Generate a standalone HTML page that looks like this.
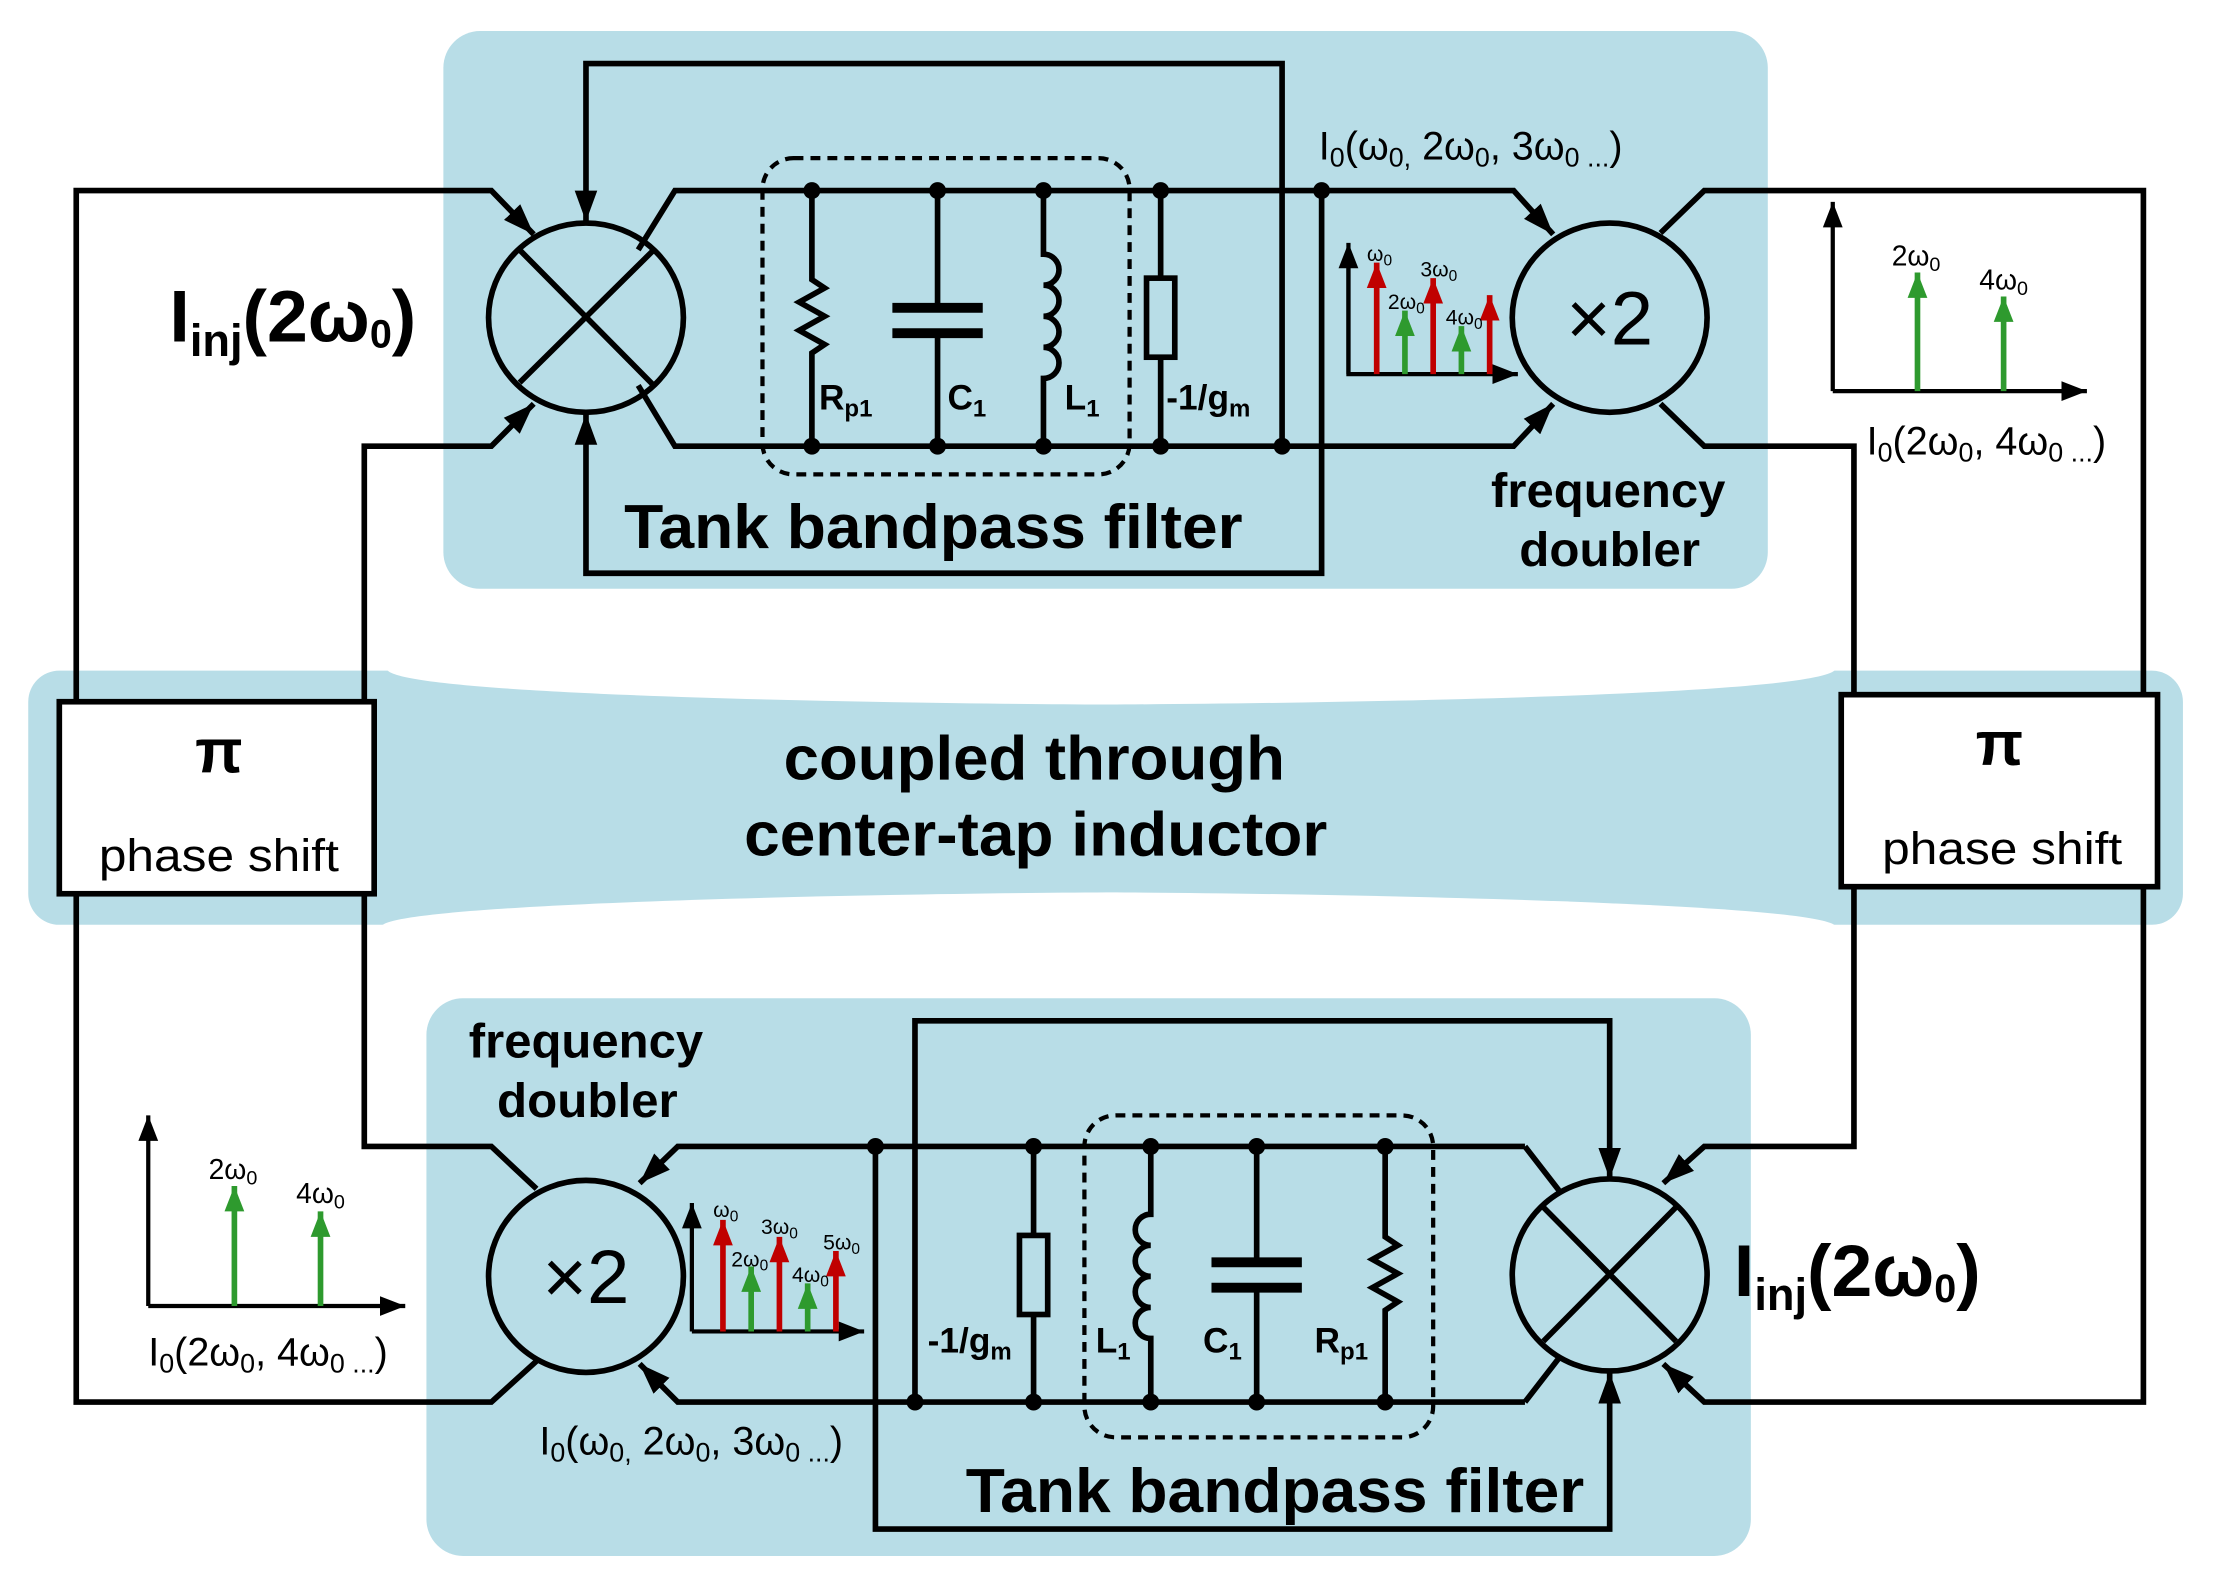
<!DOCTYPE html>
<html><head><meta charset="utf-8"><style>
html,body{margin:0;padding:0;background:#fff;}
svg{display:block;}
text{font-family:"Liberation Sans",Arial,sans-serif;fill:#000;}
.b{font-weight:bold;}
</style></head><body>
<svg width="2214" height="1587" viewBox="0 0 1568 1124" preserveAspectRatio="none" xmlns="http://www.w3.org/2000/svg">
<defs>
<marker id="a" markerUnits="userSpaceOnUse" markerWidth="24" markerHeight="18" refX="22" refY="9" orient="auto"><path d="M0,1 L22,9 L0,17 Z" fill="#000"/></marker>
<marker id="r" markerUnits="userSpaceOnUse" markerWidth="20" markerHeight="16" refX="18" refY="8" orient="auto"><path d="M0,1 L18,8 L0,15 Z" fill="#c00000"/></marker>
<marker id="g" markerUnits="userSpaceOnUse" markerWidth="20" markerHeight="16" refX="18" refY="8" orient="auto"><path d="M0,1 L18,8 L0,15 Z" fill="#2e9a2e"/></marker>
<marker id="s" markerUnits="userSpaceOnUse" markerWidth="20" markerHeight="16" refX="18" refY="8" orient="auto"><path d="M0,1 L18,8 L0,15 Z" fill="#000"/></marker>
</defs>
<rect x="314" y="22" width="938" height="395" rx="26" fill="#b8dde7"/>
<rect x="302" y="707" width="938" height="395" rx="26" fill="#b8dde7"/>
<rect x="20" y="475" width="1526" height="180" rx="22" fill="#b8dde7"/>
<path d="M274,474 C280,492 600,498 784,499 C968,498 1290,492 1300,474 Z" fill="#fff"/>
<path d="M270,656 C280,640 600,633 784,632 C968,633 1290,640 1300,656 Z" fill="#fff"/>

<g fill="none" stroke="#000" stroke-width="4" stroke-linejoin="miter">
<ellipse cx="415" cy="225" rx="69" ry="67"/>
<line x1="368" y1="177" x2="462" y2="272"/><line x1="462" y1="178" x2="368" y2="271"/>
<ellipse cx="1140" cy="225" rx="69" ry="67"/>
<polyline points="54,497 54,135 348,135 378,166" marker-end="url(#a)"/>
<polyline points="258,497 258,316 348,316 378,286" marker-end="url(#a)"/>
<polyline points="908,316 908,45 415,45 415,157" marker-end="url(#a)"/>
<polyline points="936,135 936,406 415,406 415,293" marker-end="url(#a)"/>
<polyline points="452,177 478,135 1072,135 1100,166" marker-end="url(#a)"/>
<polyline points="452,273 478,316 1072,316 1100,286" marker-end="url(#a)"/>
<polyline points="1176,165 1207,135 1518,135 1518,492"/>
<polyline points="1176,286 1207,316 1313,316 1313,492"/>
<rect x="540" y="112" width="260" height="224" rx="22" stroke-width="3" stroke-dasharray="7,5"/>
<polyline points="575,135 575,198 584,204 566,214 584,224 566,234 584,244 575,250 575,316"/>
<line x1="664" y1="135" x2="664" y2="218"/><line x1="664" y1="236" x2="664" y2="316"/>
<line x1="632" y1="218" x2="696" y2="218" stroke-width="7"/><line x1="632" y1="236" x2="696" y2="236" stroke-width="7"/>
<path d="M739,135 L739,180 A11,11 0 0 1 739,202 A11,11 0 0 1 739,224 A11,11 0 0 1 739,246 A11,11 0 0 1 739,268 L739,316"/>
<line x1="822" y1="135" x2="822" y2="197"/><line x1="822" y1="253" x2="822" y2="316"/>
<rect x="812" y="197" width="20" height="56"/>
<ellipse cx="415" cy="904" rx="69" ry="68"/>
<ellipse cx="1140" cy="903" rx="69" ry="68"/>
<line x1="1093" y1="855" x2="1187" y2="950"/><line x1="1187" y1="855" x2="1093" y2="950"/>
<polyline points="54,633 54,993 348,993 380,964"/>
<polyline points="258,633 258,812 348,812 380,842"/>
<polyline points="1080,812 480,812 453,838" marker-end="url(#a)"/>
<polyline points="1080,993 480,993 453,966" marker-end="url(#a)"/>
<line x1="1080" y1="812" x2="1104" y2="843"/><line x1="1080" y1="993" x2="1104" y2="962"/>
<polyline points="1518,628 1518,993 1207,993 1178,966" marker-end="url(#a)"/>
<polyline points="1313,628 1313,812 1207,812 1178,838" marker-end="url(#a)"/>
<polyline points="648,993 648,723 1140,723 1140,835" marker-end="url(#a)"/>
<polyline points="620,812 620,1083 1140,1083 1140,972" marker-end="url(#a)"/>
<rect x="768" y="790" width="247" height="228" rx="22" stroke-width="3" stroke-dasharray="7,5"/>
<line x1="732" y1="812" x2="732" y2="875"/><line x1="732" y1="931" x2="732" y2="993"/>
<rect x="722" y="875" width="20" height="56"/>
<path d="M815,812 L815,860 A11,11 0 0 0 815,882 A11,11 0 0 0 815,904 A11,11 0 0 0 815,926 A11,11 0 0 0 815,948 L815,993"/>
<line x1="890" y1="812" x2="890" y2="894"/><line x1="890" y1="912" x2="890" y2="993"/>
<line x1="858" y1="894" x2="922" y2="894" stroke-width="7"/><line x1="858" y1="912" x2="922" y2="912" stroke-width="7"/>
<polyline points="981,812 981,876 990,882 972,892 990,902 972,912 990,922 981,928 981,993"/>
<rect x="42" y="497" width="223" height="136" fill="#fff"/>
<rect x="1304" y="492" width="224" height="136" fill="#fff"/>
<polyline points="955,178 955,265 1075,265" stroke-width="3" marker-end="url(#s)"/>
<line x1="955" y1="265" x2="955" y2="172" stroke-width="3" marker-end="url(#s)"/>
<polyline points="1298,277 1478,277" stroke-width="3" marker-end="url(#s)"/>
<line x1="1298" y1="277" x2="1298" y2="143" stroke-width="3" marker-end="url(#s)"/>
<polyline points="490,943 612,943" stroke-width="3" marker-end="url(#s)"/>
<line x1="490" y1="943" x2="490" y2="852" stroke-width="3" marker-end="url(#s)"/>
<polyline points="105,925 287,925" stroke-width="3" marker-end="url(#s)"/>
<line x1="105" y1="925" x2="105" y2="790" stroke-width="3" marker-end="url(#s)"/>
</g>
<g stroke-width="4" fill="none">
<line x1="975" y1="265" x2="975" y2="186" stroke="#c00000" marker-end="url(#r)"/>
<line x1="995" y1="265" x2="995" y2="220" stroke="#2e9a2e" marker-end="url(#g)"/>
<line x1="1015" y1="265" x2="1015" y2="197" stroke="#c00000" marker-end="url(#r)"/>
<line x1="1035" y1="265" x2="1035" y2="231" stroke="#2e9a2e" marker-end="url(#g)"/>
<line x1="1055" y1="265" x2="1055" y2="209" stroke="#c00000" marker-end="url(#r)"/>
<line x1="1358" y1="277" x2="1358" y2="193" stroke="#2e9a2e" marker-end="url(#g)"/>
<line x1="1419" y1="277" x2="1419" y2="210" stroke="#2e9a2e" marker-end="url(#g)"/>
<line x1="512" y1="943" x2="512" y2="864" stroke="#c00000" marker-end="url(#r)"/>
<line x1="532" y1="943" x2="532" y2="897" stroke="#2e9a2e" marker-end="url(#g)"/>
<line x1="552" y1="943" x2="552" y2="876" stroke="#c00000" marker-end="url(#r)"/>
<line x1="572" y1="943" x2="572" y2="909" stroke="#2e9a2e" marker-end="url(#g)"/>
<line x1="592" y1="943" x2="592" y2="886" stroke="#c00000" marker-end="url(#r)"/>
<line x1="166" y1="925" x2="166" y2="840" stroke="#2e9a2e" marker-end="url(#g)"/>
<line x1="227" y1="925" x2="227" y2="858" stroke="#2e9a2e" marker-end="url(#g)"/>
</g>
<g fill="#000">
<circle cx="575" cy="135" r="6"/><circle cx="664" cy="135" r="6"/><circle cx="739" cy="135" r="6"/><circle cx="822" cy="135" r="6"/><circle cx="936" cy="135" r="6"/>
<circle cx="575" cy="316" r="6"/><circle cx="664" cy="316" r="6"/><circle cx="739" cy="316" r="6"/><circle cx="822" cy="316" r="6"/><circle cx="908" cy="316" r="6"/>
<circle cx="620" cy="812" r="6"/><circle cx="732" cy="812" r="6"/><circle cx="815" cy="812" r="6"/><circle cx="890" cy="812" r="6"/><circle cx="981" cy="812" r="6"/>
<circle cx="648" cy="993" r="6"/><circle cx="732" cy="993" r="6"/><circle cx="815" cy="993" r="6"/><circle cx="890" cy="993" r="6"/><circle cx="981" cy="993" r="6"/>
</g>
<text x="120" y="242" class="b" font-size="52">I<tspan font-size="32" dy="10">inj</tspan><tspan dy="-10">(2ω</tspan><tspan font-size="28" dy="4">0</tspan><tspan dy="-4">)</tspan></text>
<text x="1228" y="918" class="b" font-size="52">I<tspan font-size="32" dy="10">inj</tspan><tspan dy="-10">(2ω</tspan><tspan font-size="28" dy="4">0</tspan><tspan dy="-4">)</tspan></text>
<text x="1140" y="244" font-size="54" text-anchor="middle">×2</text>
<text x="415" y="923" font-size="54" text-anchor="middle">×2</text>
<g class="b" font-size="25">
<text x="580" y="290">R<tspan font-size="17" dy="5">p1</tspan></text>
<text x="671" y="290">C<tspan font-size="17" dy="5">1</tspan></text>
<text x="754" y="290">L<tspan font-size="17" dy="5">1</tspan></text>
<text x="826" y="290">-1/g<tspan font-size="17" dy="5">m</tspan></text>
<text x="657" y="958">-1/g<tspan font-size="17" dy="5">m</tspan></text>
<text x="776" y="958">L<tspan font-size="17" dy="5">1</tspan></text>
<text x="852" y="958">C<tspan font-size="17" dy="5">1</tspan></text>
<text x="931" y="958">R<tspan font-size="17" dy="5">p1</tspan></text>
</g>
<text x="442" y="388" class="b" font-size="44" textLength="438" lengthAdjust="spacingAndGlyphs">Tank bandpass filter</text>
<text x="684" y="1071" class="b" font-size="44" textLength="438" lengthAdjust="spacingAndGlyphs">Tank bandpass filter</text>
<text x="1056" y="359" class="b" font-size="34" textLength="166" lengthAdjust="spacingAndGlyphs">frequency</text>
<text x="1076" y="401" class="b" font-size="34" textLength="128" lengthAdjust="spacingAndGlyphs">doubler</text>
<text x="332" y="749" class="b" font-size="34" textLength="166" lengthAdjust="spacingAndGlyphs">frequency</text>
<text x="352" y="791" class="b" font-size="34" textLength="128" lengthAdjust="spacingAndGlyphs">doubler</text>
<text x="555" y="552" class="b" font-size="44" textLength="355" lengthAdjust="spacingAndGlyphs">coupled through</text>
<text x="527" y="606" class="b" font-size="44" textLength="413" lengthAdjust="spacingAndGlyphs">center-tap inductor</text>
<text x="155" y="547" class="b" font-size="44" text-anchor="middle">π</text>
<text x="1416" y="542" class="b" font-size="44" text-anchor="middle">π</text>
<text x="70" y="617" font-size="32" textLength="170" lengthAdjust="spacingAndGlyphs">phase shift</text>
<text x="1333" y="612" font-size="32" textLength="170" lengthAdjust="spacingAndGlyphs">phase shift</text>
<text x="934" y="113" font-size="28">I<tspan font-size="19" dy="5">0</tspan><tspan dy="-5">(ω</tspan><tspan font-size="19" dy="5">0,</tspan><tspan dy="-5"> 2ω</tspan><tspan font-size="19" dy="5">0</tspan><tspan dy="-5">, 3ω</tspan><tspan font-size="19" dy="5">0 ...</tspan><tspan dy="-5">)</tspan></text>
<text x="382" y="1030" font-size="28">I<tspan font-size="19" dy="5">0</tspan><tspan dy="-5">(ω</tspan><tspan font-size="19" dy="5">0,</tspan><tspan dy="-5"> 2ω</tspan><tspan font-size="19" dy="5">0</tspan><tspan dy="-5">, 3ω</tspan><tspan font-size="19" dy="5">0 ...</tspan><tspan dy="-5">)</tspan></text>
<text x="1322" y="322" font-size="28">I<tspan font-size="19" dy="5">0</tspan><tspan dy="-5">(2ω</tspan><tspan font-size="19" dy="5">0</tspan><tspan dy="-5">, 4ω</tspan><tspan font-size="19" dy="5">0 ...</tspan><tspan dy="-5">)</tspan></text>
<text x="105" y="967" font-size="28">I<tspan font-size="19" dy="5">0</tspan><tspan dy="-5">(2ω</tspan><tspan font-size="19" dy="5">0</tspan><tspan dy="-5">, 4ω</tspan><tspan font-size="19" dy="5">0 ...</tspan><tspan dy="-5">)</tspan></text>
<g font-size="20" text-anchor="middle">
<text x="1357" y="188">2ω<tspan font-size="14" dy="4">0</tspan></text>
<text x="1419" y="205">4ω<tspan font-size="14" dy="4">0</tspan></text>
<text x="165" y="835">2ω<tspan font-size="14" dy="4">0</tspan></text>
<text x="227" y="852">4ω<tspan font-size="14" dy="4">0</tspan></text>
</g>
<g font-size="15" text-anchor="middle">
<text x="977" y="185">ω<tspan font-size="11" dy="3">0</tspan></text>
<text x="1019" y="196">3ω<tspan font-size="11" dy="3">0</tspan></text>
<text x="996" y="219">2ω<tspan font-size="11" dy="3">0</tspan></text>
<text x="1037" y="230">4ω<tspan font-size="11" dy="3">0</tspan></text>
<text x="514" y="862">ω<tspan font-size="11" dy="3">0</tspan></text>
<text x="552" y="874">3ω<tspan font-size="11" dy="3">0</tspan></text>
<text x="531" y="897">2ω<tspan font-size="11" dy="3">0</tspan></text>
<text x="574" y="908">4ω<tspan font-size="11" dy="3">0</tspan></text>
<text x="596" y="885">5ω<tspan font-size="11" dy="3">0</tspan></text>
</g>
</svg>
</body></html>
